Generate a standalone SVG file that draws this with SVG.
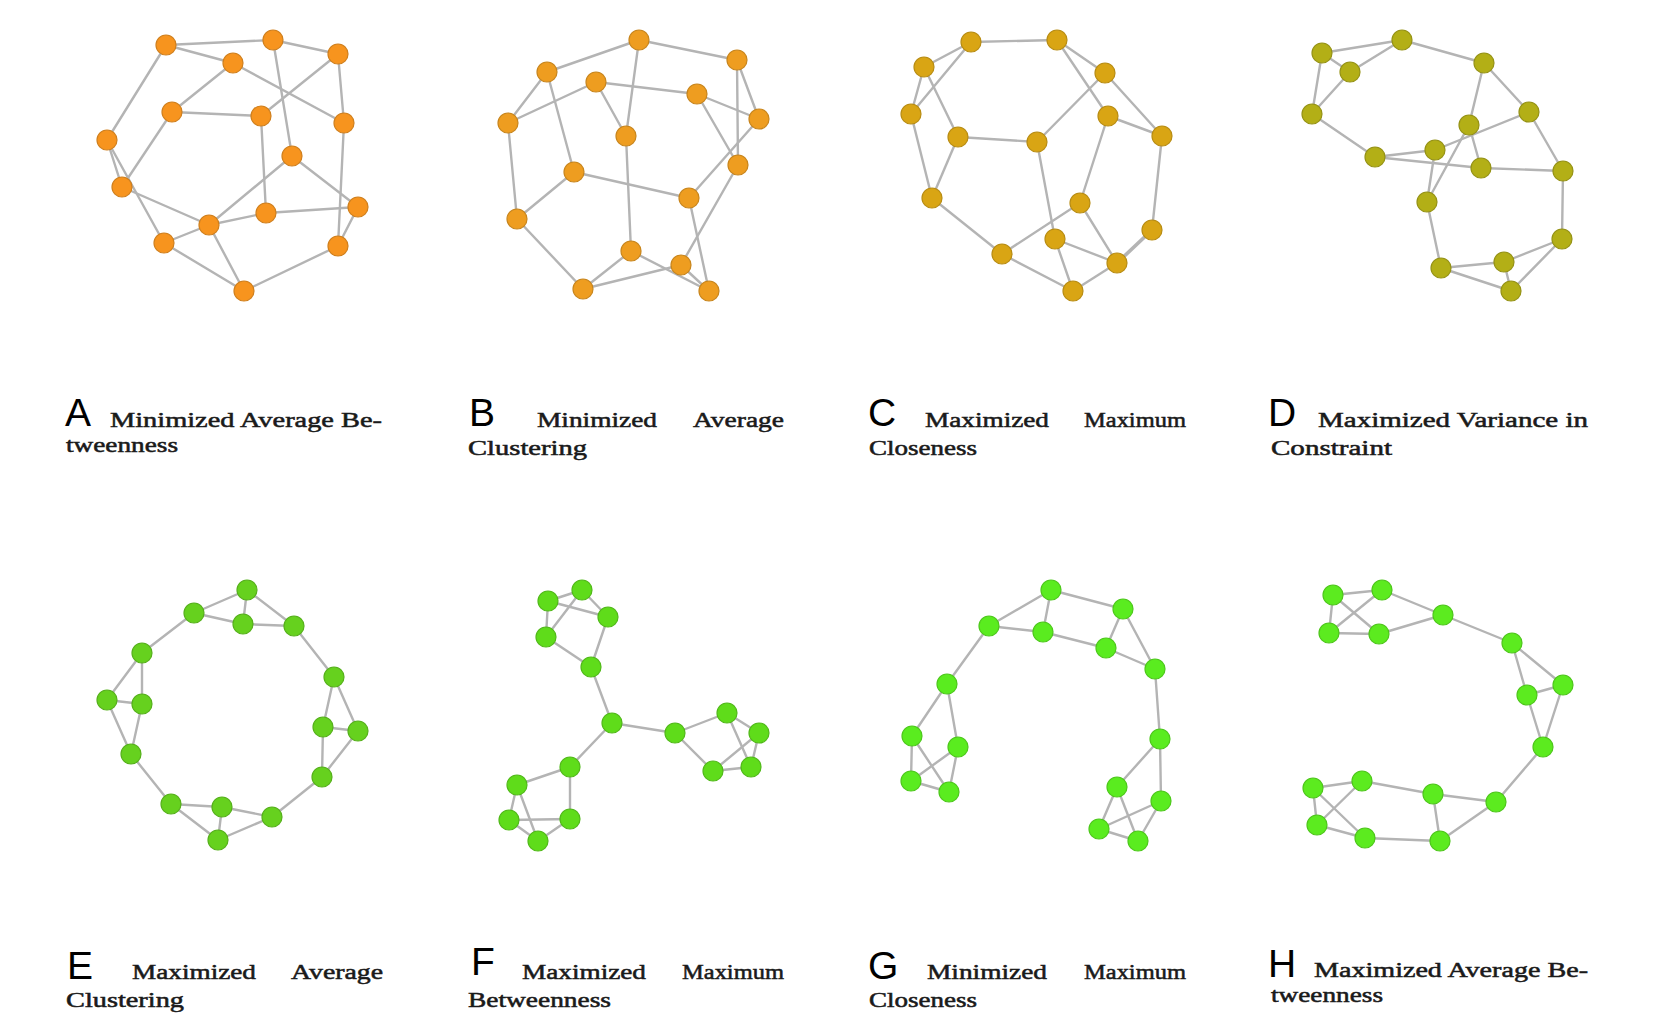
<svg xmlns="http://www.w3.org/2000/svg" width="1678" height="1028" viewBox="0 0 1678 1028">
<style>
.e line{stroke:#b4b4b4;stroke-width:2.4;stroke-linecap:round}
circle{r:10;stroke-width:1.2}
.a circle{fill:#f7941e;stroke:#d07f1c}
.b circle{fill:#ee9d20;stroke:#c8851c}
.c circle{fill:#d9a514;stroke:#b88c12}
.d circle{fill:#b3af16;stroke:#959214}
.ee circle{fill:#66d11e;stroke:#55b01a}
.f circle{fill:#5fdc1a;stroke:#50b918}
.g circle{fill:#5aec1f;stroke:#4cc81a}
.h circle{fill:#5ceb1f;stroke:#4dc61a}
.L{font-family:"Liberation Sans",Arial,sans-serif;font-size:39px;fill:#000}
.T{font-family:"Liberation Serif","Times New Roman",serif;font-size:22px;font-weight:normal;fill:#1a1a1a;stroke:#1a1a1a;stroke-width:0.55}
</style>
<rect width="1678" height="1028" fill="#fff"/>

<!-- Panel A -->
<g id="panelA">
<g id="edgesA" class="e">
<line x1="166" y1="45" x2="273" y2="40"/><line x1="166" y1="45" x2="233" y2="63"/><line x1="166" y1="45" x2="107" y2="140"/>
<line x1="273" y1="40" x2="338" y2="54"/><line x1="273" y1="40" x2="292" y2="156"/><line x1="338" y1="54" x2="261" y2="116"/>
<line x1="338" y1="54" x2="344" y2="123"/><line x1="233" y1="63" x2="172" y2="112"/><line x1="233" y1="63" x2="344" y2="123"/>
<line x1="172" y1="112" x2="261" y2="116"/><line x1="172" y1="112" x2="122" y2="187"/><line x1="261" y1="116" x2="266" y2="213"/>
<line x1="344" y1="123" x2="338" y2="246"/><line x1="107" y1="140" x2="122" y2="187"/><line x1="107" y1="140" x2="164" y2="243"/>
<line x1="292" y1="156" x2="209" y2="225"/><line x1="292" y1="156" x2="358" y2="207"/><line x1="122" y1="187" x2="209" y2="225"/>
<line x1="266" y1="213" x2="209" y2="225"/><line x1="266" y1="213" x2="358" y2="207"/><line x1="209" y1="225" x2="164" y2="243"/>
<line x1="209" y1="225" x2="244" y2="291"/><line x1="164" y1="243" x2="244" y2="291"/><line x1="244" y1="291" x2="338" y2="246"/>
<line x1="338" y1="246" x2="358" y2="207"/>
</g>
<g class="a">
<g id="A1"><circle cx="166" cy="45"/></g><g id="A2"><circle cx="273" cy="40"/></g><g id="A3"><circle cx="338" cy="54"/></g><g id="A4"><circle cx="233" cy="63"/></g>
<g id="A5"><circle cx="172" cy="112"/></g><g id="A6"><circle cx="261" cy="116"/></g><g id="A7"><circle cx="344" cy="123"/></g><g id="A8"><circle cx="107" cy="140"/></g>
<g id="A9"><circle cx="292" cy="156"/></g><g id="A10"><circle cx="122" cy="187"/></g><g id="A11"><circle cx="358" cy="207"/></g><g id="A12"><circle cx="266" cy="213"/></g>
<g id="A13"><circle cx="209" cy="225"/></g><g id="A14"><circle cx="164" cy="243"/></g><g id="A15"><circle cx="338" cy="246"/></g><g id="A16"><circle cx="244" cy="291"/></g>
</g>
</g>

<!-- Panel B -->
<g id="panelB">
<g id="edgesB" class="e">
<line x1="639" y1="40" x2="547" y2="72"/><line x1="639" y1="40" x2="737" y2="60"/><line x1="639" y1="40" x2="626" y2="136"/>
<line x1="737" y1="60" x2="759" y2="119"/><line x1="737" y1="60" x2="738" y2="165"/><line x1="547" y1="72" x2="508" y2="123"/>
<line x1="547" y1="72" x2="574" y2="172"/><line x1="596" y1="82" x2="508" y2="123"/><line x1="596" y1="82" x2="697" y2="94"/>
<line x1="596" y1="82" x2="626" y2="136"/><line x1="697" y1="94" x2="759" y2="119"/><line x1="697" y1="94" x2="738" y2="165"/>
<line x1="759" y1="119" x2="689" y2="198"/><line x1="508" y1="123" x2="517" y2="219"/><line x1="574" y1="172" x2="689" y2="198"/>
<line x1="574" y1="172" x2="517" y2="219"/><line x1="626" y1="136" x2="631" y2="251"/><line x1="738" y1="165" x2="681" y2="265"/>
<line x1="689" y1="198" x2="709" y2="291"/><line x1="517" y1="219" x2="583" y2="289"/><line x1="631" y1="251" x2="583" y2="289"/>
<line x1="631" y1="251" x2="709" y2="291"/><line x1="583" y1="289" x2="681" y2="265"/><line x1="681" y1="265" x2="709" y2="291"/>
</g>
<g class="b">
<g id="B1"><circle cx="639" cy="40"/></g><g id="B2"><circle cx="737" cy="60"/></g><g id="B3"><circle cx="547" cy="72"/></g><g id="B4"><circle cx="596" cy="82"/></g>
<g id="B5"><circle cx="697" cy="94"/></g><g id="B6"><circle cx="759" cy="119"/></g><g id="B7"><circle cx="508" cy="123"/></g><g id="B8"><circle cx="626" cy="136"/></g>
<g id="B9"><circle cx="738" cy="165"/></g><g id="B10"><circle cx="574" cy="172"/></g><g id="B11"><circle cx="689" cy="198"/></g><g id="B12"><circle cx="517" cy="219"/></g>
<g id="B13"><circle cx="631" cy="251"/></g><g id="B14"><circle cx="681" cy="265"/></g><g id="B15"><circle cx="583" cy="289"/></g><g id="B16"><circle cx="709" cy="291"/></g>
</g>
</g>

<!-- Panel C -->
<g id="panelC">
<g id="edgesC" class="e">
<line x1="971" y1="42" x2="1057" y2="40"/><line x1="971" y1="42" x2="924" y2="67"/><line x1="971" y1="42" x2="911" y2="114"/>
<line x1="924" y1="67" x2="911" y2="114"/><line x1="924" y1="67" x2="958" y2="137"/><line x1="1057" y1="40" x2="1105" y2="73"/>
<line x1="1057" y1="40" x2="1108" y2="116"/><line x1="1105" y1="73" x2="1037" y2="142"/><line x1="1105" y1="73" x2="1162" y2="136"/>
<line x1="1108" y1="116" x2="1162" y2="136"/><line x1="1108" y1="116" x2="1080" y2="203"/><line x1="958" y1="137" x2="1037" y2="142"/>
<line x1="958" y1="137" x2="932" y2="198"/><line x1="911" y1="114" x2="932" y2="198"/><line x1="1037" y1="142" x2="1055" y2="239"/>
<line x1="1162" y1="136" x2="1152" y2="230"/><line x1="932" y1="198" x2="1002" y2="254"/><line x1="1080" y1="203" x2="1002" y2="254"/>
<line x1="1080" y1="203" x2="1117" y2="263"/><line x1="1055" y1="239" x2="1117" y2="263"/><line x1="1055" y1="239" x2="1073" y2="291"/>
<line x1="1002" y1="254" x2="1073" y2="291"/><line x1="1073" y1="291" x2="1117" y2="263"/><line x1="1152" y1="230" x2="1117" y2="263" style="stroke-width:3.6"/>
</g>
<g class="c">
<g id="C1"><circle cx="971" cy="42"/></g><g id="C2"><circle cx="1057" cy="40"/></g><g id="C3"><circle cx="924" cy="67"/></g><g id="C4"><circle cx="1105" cy="73"/></g>
<g id="C5"><circle cx="911" cy="114"/></g><g id="C6"><circle cx="1108" cy="116"/></g><g id="C7"><circle cx="958" cy="137"/></g><g id="C8"><circle cx="1037" cy="142"/></g>
<g id="C9"><circle cx="1162" cy="136"/></g><g id="C10"><circle cx="932" cy="198"/></g><g id="C11"><circle cx="1080" cy="203"/></g><g id="C12"><circle cx="1152" cy="230"/></g>
<g id="C13"><circle cx="1055" cy="239"/></g><g id="C14"><circle cx="1002" cy="254"/></g><g id="C15"><circle cx="1117" cy="263"/></g><g id="C16"><circle cx="1073" cy="291"/></g>
</g>
</g>

<!-- Panel D -->
<g id="panelD">
<g id="edgesD" class="e">
<line x1="1402" y1="40" x2="1322" y2="53"/><line x1="1402" y1="40" x2="1350" y2="72"/><line x1="1402" y1="40" x2="1484" y2="63"/>
<line x1="1322" y1="53" x2="1350" y2="72"/><line x1="1322" y1="53" x2="1312" y2="114"/><line x1="1350" y1="72" x2="1312" y2="114"/>
<line x1="1312" y1="114" x2="1375" y2="157"/><line x1="1375" y1="157" x2="1435" y2="150"/><line x1="1375" y1="157" x2="1481" y2="168"/>
<line x1="1435" y1="150" x2="1529" y2="112"/><line x1="1435" y1="150" x2="1427" y2="202"/><line x1="1484" y1="63" x2="1469" y2="125"/>
<line x1="1484" y1="63" x2="1529" y2="112"/><line x1="1469" y1="125" x2="1481" y2="168"/><line x1="1469" y1="125" x2="1427" y2="202"/>
<line x1="1529" y1="112" x2="1563" y2="171"/><line x1="1481" y1="168" x2="1563" y2="171"/><line x1="1563" y1="171" x2="1562" y2="239"/>
<line x1="1427" y1="202" x2="1441" y2="268"/><line x1="1562" y1="239" x2="1504" y2="262"/><line x1="1562" y1="239" x2="1511" y2="291"/>
<line x1="1504" y1="262" x2="1441" y2="268"/><line x1="1504" y1="262" x2="1511" y2="291"/><line x1="1441" y1="268" x2="1511" y2="291"/>
</g>
<g class="d">
<g id="D1"><circle cx="1402" cy="40"/></g><g id="D2"><circle cx="1322" cy="53"/></g><g id="D3"><circle cx="1484" cy="63"/></g><g id="D4"><circle cx="1350" cy="72"/></g>
<g id="D5"><circle cx="1312" cy="114"/></g><g id="D6"><circle cx="1529" cy="112"/></g><g id="D7"><circle cx="1469" cy="125"/></g><g id="D8"><circle cx="1435" cy="150"/></g>
<g id="D9"><circle cx="1375" cy="157"/></g><g id="D10"><circle cx="1481" cy="168"/></g><g id="D11"><circle cx="1563" cy="171"/></g><g id="D12"><circle cx="1427" cy="202"/></g>
<g id="D13"><circle cx="1562" cy="239"/></g><g id="D14"><circle cx="1504" cy="262"/></g><g id="D15"><circle cx="1441" cy="268"/></g><g id="D16"><circle cx="1511" cy="291"/></g>
</g>
</g>

<!-- Panel E -->
<g id="panelE">
<g id="edgesE" class="e">
<line x1="247" y1="590" x2="194" y2="613"/><line x1="247" y1="590" x2="243" y2="624"/><line x1="247" y1="590" x2="294" y2="626"/>
<line x1="194" y1="613" x2="243" y2="624"/><line x1="243" y1="624" x2="294" y2="626"/><line x1="194" y1="613" x2="142" y2="653"/>
<line x1="142" y1="653" x2="107" y2="700"/><line x1="142" y1="653" x2="142" y2="704"/><line x1="107" y1="700" x2="142" y2="704"/>
<line x1="107" y1="700" x2="131" y2="754"/><line x1="142" y1="704" x2="131" y2="754"/><line x1="131" y1="754" x2="171" y2="804"/>
<line x1="171" y1="804" x2="222" y2="807"/><line x1="171" y1="804" x2="218" y2="840"/><line x1="222" y1="807" x2="218" y2="840"/>
<line x1="222" y1="807" x2="272" y2="817"/><line x1="218" y1="840" x2="272" y2="817"/><line x1="272" y1="817" x2="322" y2="777"/>
<line x1="322" y1="777" x2="323" y2="727"/><line x1="322" y1="777" x2="358" y2="731"/><line x1="323" y1="727" x2="358" y2="731"/>
<line x1="323" y1="727" x2="334" y2="677"/><line x1="334" y1="677" x2="358" y2="731"/><line x1="294" y1="626" x2="334" y2="677"/>
</g>
<g class="ee">
<g id="E1"><circle cx="247" cy="590"/></g><g id="E2"><circle cx="194" cy="613"/></g><g id="E3"><circle cx="243" cy="624"/></g><g id="E4"><circle cx="294" cy="626"/></g>
<g id="E5"><circle cx="142" cy="653"/></g><g id="E6"><circle cx="334" cy="677"/></g><g id="E7"><circle cx="107" cy="700"/></g><g id="E8"><circle cx="142" cy="704"/></g>
<g id="E9"><circle cx="323" cy="727"/></g><g id="E10"><circle cx="358" cy="731"/></g><g id="E11"><circle cx="131" cy="754"/></g><g id="E12"><circle cx="322" cy="777"/></g>
<g id="E13"><circle cx="171" cy="804"/></g><g id="E14"><circle cx="222" cy="807"/></g><g id="E15"><circle cx="272" cy="817"/></g><g id="E16"><circle cx="218" cy="840"/></g>
</g>
</g>

<!-- Panel F -->
<g id="panelF">
<g id="edgesF" class="e">
<line x1="582" y1="590" x2="548" y2="601"/><line x1="582" y1="590" x2="608" y2="617"/><line x1="582" y1="590" x2="546" y2="637"/>
<line x1="548" y1="601" x2="608" y2="617"/><line x1="548" y1="601" x2="546" y2="637"/><line x1="608" y1="617" x2="591" y2="667"/>
<line x1="546" y1="637" x2="591" y2="667"/><line x1="591" y1="667" x2="612" y2="723"/><line x1="612" y1="723" x2="675" y2="733"/>
<line x1="612" y1="723" x2="570" y2="767"/><line x1="675" y1="733" x2="727" y2="713"/><line x1="675" y1="733" x2="713" y2="771"/>
<line x1="727" y1="713" x2="759" y2="733"/><line x1="727" y1="713" x2="751" y2="767"/><line x1="759" y1="733" x2="713" y2="771"/>
<line x1="759" y1="733" x2="751" y2="767"/><line x1="751" y1="767" x2="713" y2="771"/><line x1="570" y1="767" x2="517" y2="785"/>
<line x1="570" y1="767" x2="570" y2="819"/><line x1="517" y1="785" x2="509" y2="820"/><line x1="517" y1="785" x2="538" y2="841"/>
<line x1="509" y1="820" x2="570" y2="819"/><line x1="509" y1="820" x2="538" y2="841"/><line x1="570" y1="819" x2="538" y2="841"/>
</g>
<g class="f">
<g id="F1"><circle cx="582" cy="590"/></g><g id="F2"><circle cx="548" cy="601"/></g><g id="F3"><circle cx="608" cy="617"/></g><g id="F4"><circle cx="546" cy="637"/></g>
<g id="F5"><circle cx="591" cy="667"/></g><g id="F6"><circle cx="612" cy="723"/></g><g id="F7"><circle cx="727" cy="713"/></g><g id="F8"><circle cx="675" cy="733"/></g>
<g id="F9"><circle cx="759" cy="733"/></g><g id="F10"><circle cx="570" cy="767"/></g><g id="F11"><circle cx="751" cy="767"/></g><g id="F12"><circle cx="713" cy="771"/></g>
<g id="F13"><circle cx="517" cy="785"/></g><g id="F14"><circle cx="509" cy="820"/></g><g id="F15"><circle cx="570" cy="819"/></g><g id="F16"><circle cx="538" cy="841"/></g>
</g>
</g>

<!-- Panel G -->
<g id="panelG">
<g id="edgesG" class="e">
<line x1="1051" y1="590" x2="989" y2="626"/><line x1="1051" y1="590" x2="1043" y2="632"/><line x1="1051" y1="590" x2="1123" y2="609"/>
<line x1="989" y1="626" x2="1043" y2="632"/><line x1="1043" y1="632" x2="1106" y2="648"/><line x1="1123" y1="609" x2="1106" y2="648"/>
<line x1="1123" y1="609" x2="1155" y2="669"/><line x1="1106" y1="648" x2="1155" y2="669"/><line x1="989" y1="626" x2="947" y2="684"/>
<line x1="947" y1="684" x2="912" y2="736"/><line x1="947" y1="684" x2="958" y2="747"/><line x1="912" y1="736" x2="911" y2="781"/>
<line x1="912" y1="736" x2="949" y2="792"/><line x1="958" y1="747" x2="911" y2="781"/><line x1="958" y1="747" x2="949" y2="792"/>
<line x1="911" y1="781" x2="949" y2="792"/><line x1="1155" y1="669" x2="1160" y2="739"/><line x1="1160" y1="739" x2="1117" y2="787"/>
<line x1="1160" y1="739" x2="1161" y2="801"/><line x1="1117" y1="787" x2="1099" y2="829"/><line x1="1117" y1="787" x2="1138" y2="841"/>
<line x1="1161" y1="801" x2="1099" y2="829"/><line x1="1161" y1="801" x2="1138" y2="841"/><line x1="1099" y1="829" x2="1138" y2="841"/>
</g>
<g class="g">
<g id="G1"><circle cx="1051" cy="590"/></g><g id="G2"><circle cx="1123" cy="609"/></g><g id="G3"><circle cx="989" cy="626"/></g><g id="G4"><circle cx="1043" cy="632"/></g>
<g id="G5"><circle cx="1106" cy="648"/></g><g id="G6"><circle cx="1155" cy="669"/></g><g id="G7"><circle cx="947" cy="684"/></g><g id="G8"><circle cx="912" cy="736"/></g>
<g id="G9"><circle cx="958" cy="747"/></g><g id="G10"><circle cx="1160" cy="739"/></g><g id="G11"><circle cx="911" cy="781"/></g><g id="G12"><circle cx="949" cy="792"/></g>
<g id="G13"><circle cx="1117" cy="787"/></g><g id="G14"><circle cx="1161" cy="801"/></g><g id="G15"><circle cx="1099" cy="829"/></g><g id="G16"><circle cx="1138" cy="841"/></g>
</g>
</g>

<!-- Panel H -->
<g id="panelH">
<g id="edgesH" class="e">
<line x1="1333" y1="595" x2="1382" y2="590"/><line x1="1333" y1="595" x2="1329" y2="633"/><line x1="1333" y1="595" x2="1379" y2="634"/>
<line x1="1382" y1="590" x2="1329" y2="633"/><line x1="1382" y1="590" x2="1443" y2="615"/><line x1="1329" y1="633" x2="1379" y2="634"/>
<line x1="1379" y1="634" x2="1443" y2="615"/><line x1="1443" y1="615" x2="1512" y2="643"/><line x1="1512" y1="643" x2="1563" y2="685"/>
<line x1="1512" y1="643" x2="1527" y2="695"/><line x1="1563" y1="685" x2="1527" y2="695"/><line x1="1563" y1="685" x2="1543" y2="747"/>
<line x1="1527" y1="695" x2="1543" y2="747"/><line x1="1543" y1="747" x2="1496" y2="802"/><line x1="1496" y1="802" x2="1433" y2="794"/>
<line x1="1496" y1="802" x2="1440" y2="841"/><line x1="1433" y1="794" x2="1362" y2="781"/><line x1="1433" y1="794" x2="1440" y2="841"/>
<line x1="1362" y1="781" x2="1313" y2="788"/><line x1="1362" y1="781" x2="1317" y2="825"/><line x1="1313" y1="788" x2="1317" y2="825"/>
<line x1="1313" y1="788" x2="1365" y2="838"/><line x1="1317" y1="825" x2="1365" y2="838"/><line x1="1365" y1="838" x2="1440" y2="841"/>
</g>
<g class="h">
<g id="H1"><circle cx="1382" cy="590"/></g><g id="H2"><circle cx="1333" cy="595"/></g><g id="H3"><circle cx="1443" cy="615"/></g><g id="H4"><circle cx="1329" cy="633"/></g>
<g id="H5"><circle cx="1379" cy="634"/></g><g id="H6"><circle cx="1512" cy="643"/></g><g id="H7"><circle cx="1563" cy="685"/></g><g id="H8"><circle cx="1527" cy="695"/></g>
<g id="H9"><circle cx="1543" cy="747"/></g><g id="H10"><circle cx="1362" cy="781"/></g><g id="H11"><circle cx="1313" cy="788"/></g><g id="H12"><circle cx="1433" cy="794"/></g>
<g id="H13"><circle cx="1496" cy="802"/></g><g id="H14"><circle cx="1317" cy="825"/></g><g id="H15"><circle cx="1365" cy="838"/></g><g id="H16"><circle cx="1440" cy="841"/></g>
</g>
</g>

<!-- Captions -->
<g id="captions">
<text class="L" x="65" y="426">A</text>
<text class="T" x="110" y="427" textLength="272" lengthAdjust="spacingAndGlyphs">Minimized Average Be-</text>
<text class="T" x="66" y="452" textLength="112" lengthAdjust="spacingAndGlyphs">tweenness</text>

<text class="L" x="469" y="426">B</text>
<text class="T" x="537" y="427" textLength="120" lengthAdjust="spacingAndGlyphs">Minimized</text>
<text class="T" x="693" y="427" textLength="91" lengthAdjust="spacingAndGlyphs">Average</text>
<text class="T" x="468" y="455" textLength="119" lengthAdjust="spacingAndGlyphs">Clustering</text>

<text class="L" x="868" y="426">C</text>
<text class="T" x="925" y="427" textLength="124" lengthAdjust="spacingAndGlyphs">Maximized</text>
<text class="T" x="1084" y="427" textLength="102" lengthAdjust="spacingAndGlyphs">Maximum</text>
<text class="T" x="869" y="455" textLength="108" lengthAdjust="spacingAndGlyphs">Closeness</text>

<text class="L" x="1268" y="426">D</text>
<text class="T" x="1318" y="427" textLength="270" lengthAdjust="spacingAndGlyphs">Maximized Variance in</text>
<text class="T" x="1271" y="455" textLength="121" lengthAdjust="spacingAndGlyphs">Constraint</text>

<text class="L" x="67" y="979">E</text>
<text class="T" x="132" y="979" textLength="124" lengthAdjust="spacingAndGlyphs">Maximized</text>
<text class="T" x="291" y="979" textLength="92" lengthAdjust="spacingAndGlyphs">Average</text>
<text class="T" x="66" y="1007" textLength="118" lengthAdjust="spacingAndGlyphs">Clustering</text>

<text class="L" x="471" y="975">F</text>
<text class="T" x="522" y="979" textLength="124" lengthAdjust="spacingAndGlyphs">Maximized</text>
<text class="T" x="682" y="979" textLength="102" lengthAdjust="spacingAndGlyphs">Maximum</text>
<text class="T" x="468" y="1007" textLength="143" lengthAdjust="spacingAndGlyphs">Betweenness</text>

<text class="L" x="868" y="979">G</text>
<text class="T" x="927" y="979" textLength="120" lengthAdjust="spacingAndGlyphs">Minimized</text>
<text class="T" x="1084" y="979" textLength="102" lengthAdjust="spacingAndGlyphs">Maximum</text>
<text class="T" x="869" y="1007" textLength="108" lengthAdjust="spacingAndGlyphs">Closeness</text>

<text class="L" x="1268" y="977">H</text>
<text class="T" x="1314" y="977" textLength="274" lengthAdjust="spacingAndGlyphs">Maximized Average Be-</text>
<text class="T" x="1271" y="1002" textLength="112" lengthAdjust="spacingAndGlyphs">tweenness</text>
</g>
</svg>
